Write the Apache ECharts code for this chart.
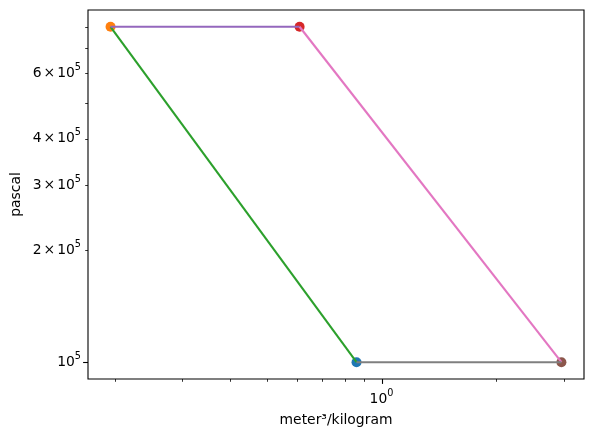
<!DOCTYPE html>
<html><head><meta charset="utf-8">
<script src="https://cdn.jsdelivr.net/npm/echarts@6/dist/echarts.min.js"></script>
<style>html,body{margin:0;padding:0;background:#fff}#c{width:594px;height:437px}</style>
</head><body><div id="c"></div>
<script>
// ---- data ----
const states = ['1', '2', '3', '4'];
const volume = [0.860, 0.195, 0.610, 2.96];      // meter³/kilogram
const pressure = [1e5, 8e5, 8e5, 1e5];           // pascal
const processes = [[0, 1], [1, 2], [2, 3], [3, 0]];
const xMajorTicks = [1];
const xMajorLabels = ['{b|10}{s|0}'];
const xMinorTicks = [0.2, 0.3, 0.4, 0.5, 0.6, 0.7, 0.8, 0.9, 2, 3];
const yMajorTicks = [1e5];
const yMajorLabels = ['{b|10}{s|5}'];
const yMinorTicks = [2e5, 3e5, 4e5, 5e5, 6e5, 7e5, 8e5];
const yMinorLabels = ['{b|2}{x|×}{b|10}{s|5}', '{b|3}{x|×}{b|10}{s|5}', '{b|4}{x|×}{b|10}{s|5}', '', '{b|6}{x|×}{b|10}{s|5}', '', ''];
const xRange = [0.1702, 3.392];
const yRange = [90121, 887600];

// ---- style ----
const stateColors = ['#1f77b4', '#ff7f0e', '#d62728', '#8c564b'];
const processColors = ['#2ca02c', '#9467bd', '#e377c2', '#7f7f7f'];
const FONT = 'DejaVu Sans';
const rich = {
  b: { fontSize: 13.9, fontFamily: FONT, color: '#000' },
  x: { fontSize: 13.9, fontFamily: FONT, color: '#000', padding: [0, 2, 0, 2] },
  s: { fontSize: 9.7, fontFamily: FONT, color: '#000', padding: [0, 0, 12, 0] }
};

const series = [];
states.forEach((s, i) => {
  series.push({
    type: 'scatter', name: 'state ' + s, z: 2,
    data: [[volume[i], pressure[i]]],
    symbol: 'circle', symbolSize: 10,
    itemStyle: { color: stateColors[i], opacity: 1 },
    silent: true
  });
});
processes.forEach(([a, b], i) => {
  series.push({
    type: 'line', z: 3, symbol: 'none', silent: true,
    data: [[volume[a], pressure[a]], [volume[b], pressure[b]]],
    lineStyle: { color: processColors[i], width: 2.1 }
  });
});

function xTickSeries(ticks, labels, len, lw) {
  return {
    type: 'custom', coordinateSystem: 'cartesian2d', silent: true, clip: false, z: 5,
    data: ticks.map(v => [v, yRange[0]]),
    renderItem(params, api) {
      const p = api.coord([api.value(0), yRange[0]]);
      const x = Math.round(p[0]) + 0.5;
      const children = [{ type: 'line', shape: { x1: x, y1: p[1], x2: x, y2: p[1] + len }, style: { stroke: '#000', lineWidth: lw } }];
      const lab = labels ? labels[params.dataIndex] : '';
      if (lab) children.push({ type: 'text', x: p[0], y: p[1] + 20, style: { text: lab, rich, align: 'center', verticalAlign: 'middle', fill: '#000' } });
      return { type: 'group', children };
    }
  };
}
function yTickSeries(ticks, labels, len, lw) {
  return {
    type: 'custom', coordinateSystem: 'cartesian2d', silent: true, clip: false, z: 5,
    data: ticks.map(v => [xRange[0], v]),
    renderItem(params, api) {
      const p = api.coord([xRange[0], api.value(1)]);
      const y = Math.round(p[1]) + 0.5;
      const children = [{ type: 'line', shape: { x1: p[0] - len, y1: y, x2: p[0], y2: y }, style: { stroke: '#000', lineWidth: lw } }];
      const lab = labels ? labels[params.dataIndex] : '';
      if (lab) children.push({ type: 'text', x: p[0] - 7, y: p[1], style: { text: lab, rich, align: 'right', verticalAlign: 'middle', fill: '#000' } });
      return { type: 'group', children };
    }
  };
}
series.push(xTickSeries(xMajorTicks, xMajorLabels, 4.9, 1.1));
series.push(xTickSeries(xMinorTicks, null, 2.8, 0.8));
series.push(yTickSeries(yMajorTicks, yMajorLabels, 4.9, 1.1));
series.push(yTickSeries(yMinorTicks, yMinorLabels, 2.8, 0.8));

const chart = echarts.init(document.getElementById('c'), null, { renderer: 'canvas' });
chart.setOption({
  animation: false,
  backgroundColor: '#fff',
  grid: { left: 88, right: 10, top: 10, bottom: 58, show: true, borderColor: '#000', borderWidth: 1.1, backgroundColor: 'transparent', containLabel: false, outerBoundsMode: 'none' },
  xAxis: {
    type: 'log', logBase: 10, min: xRange[0], max: xRange[1],
    axisLine: { show: false }, axisTick: { show: false }, axisLabel: { show: false }, splitLine: { show: false }, minorTick: { show: false },
    name: 'meter³/kilogram', nameLocation: 'middle', nameGap: 41,
    nameTextStyle: { fontFamily: FONT, fontSize: 13.9, color: '#000', verticalAlign: 'middle' }
  },
  yAxis: {
    type: 'log', logBase: 10, min: yRange[0], max: yRange[1],
    axisLine: { show: false }, axisTick: { show: false }, axisLabel: { show: false }, splitLine: { show: false }, minorTick: { show: false },
    name: 'pascal', nameLocation: 'middle', nameGap: 72,
    nameTextStyle: { fontFamily: FONT, fontSize: 13.9, color: '#000', verticalAlign: 'middle' }
  },
  series
});
</script>
</body></html>
